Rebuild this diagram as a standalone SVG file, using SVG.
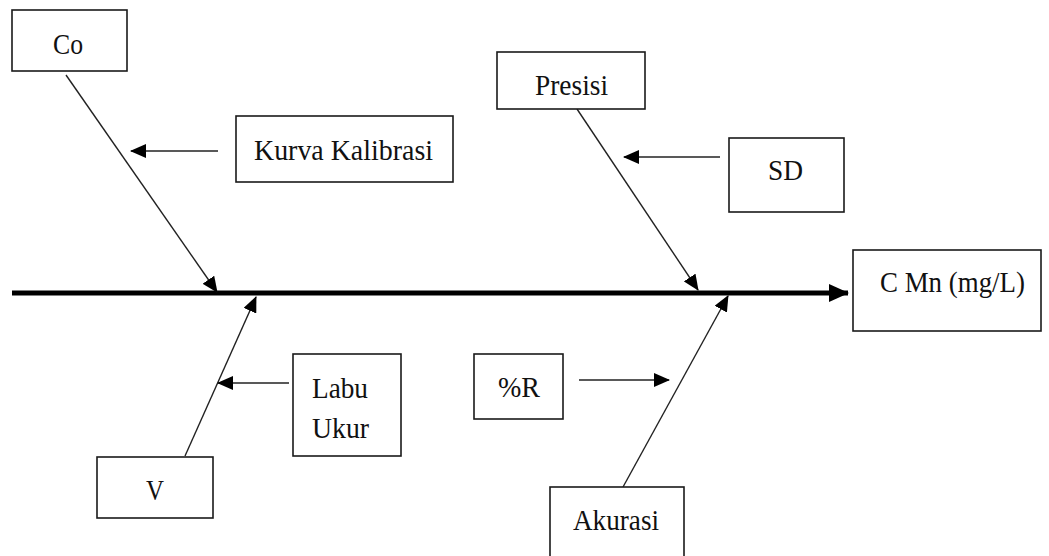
<svg xmlns="http://www.w3.org/2000/svg" width="1049" height="556" viewBox="0 0 1049 556">
<style>
.box{fill:#fff;stroke:#1a1a1a;stroke-width:1.6}
.t{font-family:"Liberation Serif","Times New Roman",serif;font-size:30px;fill:#111}
.c{fill:none;stroke:#222;stroke-width:1.4}
.main{fill:none;stroke:#000;stroke-width:5}
</style>
<defs>
<marker id="ah" markerUnits="userSpaceOnUse" markerWidth="16" markerHeight="14" refX="15" refY="7" orient="auto">
<path d="M0,0 L16,7 L0,14 Z" fill="#000"/>
</marker>
<marker id="ahm" markerUnits="userSpaceOnUse" markerWidth="20" markerHeight="18" refX="19" refY="9" orient="auto">
<path d="M0,0 L20,9 L0,18 Z" fill="#000"/>
</marker>
</defs>
<g id="connectors">
<line class="main" x1="12" y1="293" x2="848" y2="293" marker-end="url(#ahm)"/>
<line class="c" x1="66" y1="75" x2="217" y2="292" marker-end="url(#ah)"/>
<line class="c" x1="218" y1="151" x2="131" y2="151" marker-end="url(#ah)"/>
<line class="c" x1="577" y1="109" x2="698" y2="290" marker-end="url(#ah)"/>
<line class="c" x1="720" y1="157" x2="624" y2="157" marker-end="url(#ah)"/>
<line class="c" x1="185" y1="456" x2="256" y2="297" marker-end="url(#ah)"/>
<line class="c" x1="289" y1="383" x2="218" y2="383" marker-end="url(#ah)"/>
<line class="c" x1="623" y1="487" x2="728" y2="296" marker-end="url(#ah)"/>
<line class="c" x1="579" y1="380" x2="669" y2="380" marker-end="url(#ah)"/>
</g>
<g id="co"><rect class="box" x="12" y="10" width="115" height="61"/><text class="t" x="53" y="54" textLength="30" lengthAdjust="spacingAndGlyphs">Co</text></g>
<g id="kurva"><rect class="box" x="236" y="116" width="217" height="66"/><text class="t" x="254" y="160" textLength="179" lengthAdjust="spacingAndGlyphs">Kurva Kalibrasi</text></g>
<g id="presisi"><rect class="box" x="497" y="52" width="148" height="57"/><text class="t" x="535" y="95" textLength="73" lengthAdjust="spacingAndGlyphs">Presisi</text></g>
<g id="sd"><rect class="box" x="729" y="138" width="115" height="74"/><text class="t" x="768" y="180" textLength="35" lengthAdjust="spacingAndGlyphs">SD</text></g>
<g id="cmn"><rect class="box" x="853" y="250" width="188" height="81"/><text class="t" x="880" y="292" textLength="145" lengthAdjust="spacingAndGlyphs">C Mn (mg/L)</text></g>
<g id="labu"><rect class="box" x="293" y="354" width="108" height="102"/><text class="t" x="312" y="398" textLength="56" lengthAdjust="spacingAndGlyphs">Labu</text><text class="t" x="312" y="438" textLength="57" lengthAdjust="spacingAndGlyphs">Ukur</text></g>
<g id="v"><rect class="box" x="97" y="457" width="116" height="61"/><text class="t" x="146" y="500" textLength="18" lengthAdjust="spacingAndGlyphs">V</text></g>
<g id="r"><rect class="box" x="474" y="354" width="89" height="65"/><text class="t" x="498" y="397" textLength="42" lengthAdjust="spacingAndGlyphs">%R</text></g>
<g id="akurasi"><rect class="box" x="550" y="487" width="134" height="75"/><text class="t" x="573" y="530" textLength="86" lengthAdjust="spacingAndGlyphs">Akurasi</text></g>
</svg>
